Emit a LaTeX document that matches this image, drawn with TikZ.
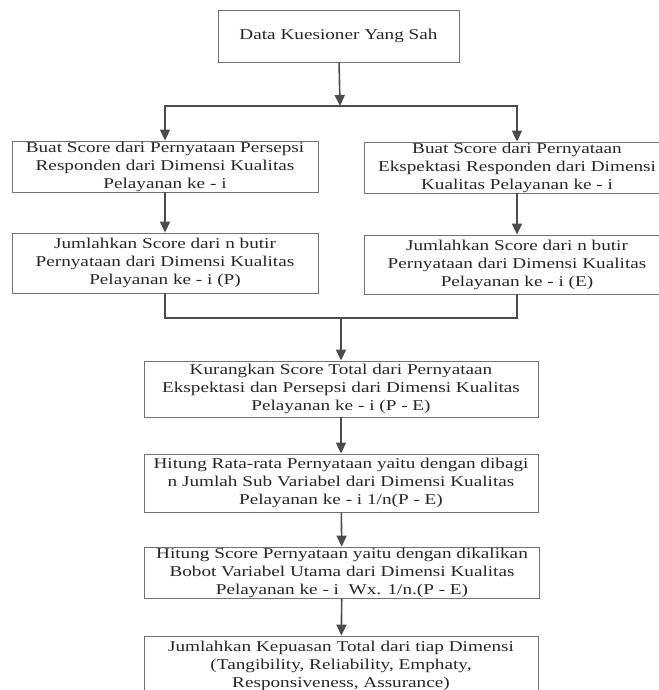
\documentclass[tikz,border=0pt]{standalone}
\usepackage{fontspec}
\setmainfont{Liberation Serif}[FakeStretch=1.28]
\usetikzlibrary{arrows.meta}

\begin{document}
\begin{tikzpicture}[x=1pt, y=-1pt,
    box/.style={draw=black!55, line width=0.8pt, inner sep=0pt, align=center,
      text=black!85, font=\fontsize{15}{18}\selectfont},
    link/.style={draw=black!70, line width=1.6pt},
    arr/.style={link, -{Triangle[width=10pt,length=11pt]}}]
  \useasboundingbox (0,0) rectangle (658,690); % page size of the scan

  % Start
  \node[box, minimum width=241pt, minimum height=52pt] (data) at (338.5,36) {Data Kuesioner Yang Sah};
  \coordinate (split) at (340,106);

  % Perception branch (left) and expectation branch (right)
  \node[box, minimum width=306pt, minimum height=51pt] (persepsi) at (165,166.5)
    {Buat Score dari Pernyataan Persepsi\\Responden dari Dimensi Kualitas\\Pelayanan ke - i};
  \node[box, minimum width=306pt, minimum height=51pt] (ekspektasi) at (517,167.5)
    {Buat Score dari Pernyataan\\Ekspektasi Responden dari Dimensi\\Kualitas Pelayanan ke - i};
  \node[box, minimum width=306pt, minimum height=60pt] (jumlahP) at (165,263)
    {Jumlahkan Score dari n butir\\Pernyataan dari Dimensi Kualitas\\Pelayanan ke - i (P)};
  \node[box, minimum width=306pt, minimum height=59pt] (jumlahE) at (517,264.5)
    {Jumlahkan Score dari n butir\\Pernyataan dari Dimensi Kualitas\\Pelayanan ke - i (E)};
  \coordinate (merge) at (341,318);

  % Common steps
  \node[box, minimum width=394pt, minimum height=56pt] (kurang) at (341,389)
    {Kurangkan Score Total dari Pernyataan\\Ekspektasi dan Persepsi dari Dimensi Kualitas\\Pelayanan ke - i (P - E)};
  \node[box, minimum width=394pt, minimum height=58pt] (rata) at (341,483)
    {Hitung Rata-rata Pernyataan yaitu dengan dibagi\\n Jumlah Sub Variabel dari Dimensi Kualitas\\Pelayanan ke - i 1/n(P - E)};
  \node[box, minimum width=395pt, minimum height=51pt] (bobot) at (342,572.5)
    {Hitung Score Pernyataan yaitu dengan dikalikan\\Bobot Variabel Utama dari Dimensi Kualitas\\Pelayanan ke - i\ \ Wx. 1/n.(P - E)};
  \node[box, minimum width=394pt, minimum height=60pt] (total) at (341,666)
    {Jumlahkan Kepuasan Total dari tiap Dimensi\\(Tangibility, Reliability, Emphaty,\\Responsiveness, Assurance)};

  % Connectors
  \draw[arr] (data) -- (split);
  \draw[arr] (split) -| (persepsi);
  \draw[arr] (split) -| (ekspektasi);
  \draw[arr] (persepsi) -- (jumlahP);
  \draw[arr] (ekspektasi) -- (jumlahE);
  \draw[link] (jumlahP.south) |- (merge) -| (jumlahE.south); % join both sums
  \draw[arr] (merge) -- (kurang);
  \draw[arr] (kurang) -- (rata);
  \draw[arr] (rata) -- (bobot);
  \draw[arr] (bobot) -- (total);
\end{tikzpicture}
\end{document}
